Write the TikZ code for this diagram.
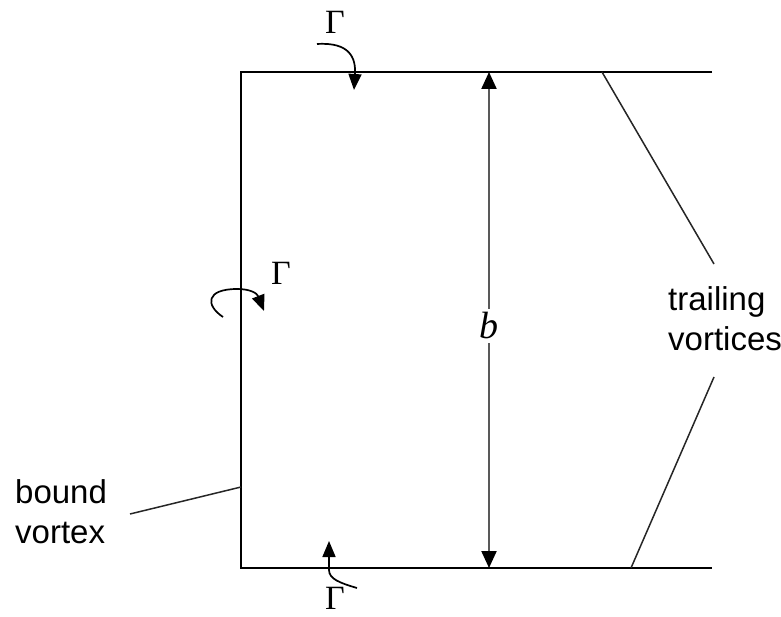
\documentclass[tikz,border=0pt]{standalone}
\usepackage{fontspec}
\setmainfont{Liberation Serif}
\setsansfont{Liberation Sans}
\usetikzlibrary{arrows.meta}
\tikzset{
  edge/.style={line width=1.8pt, black},
  leader/.style={line width=1.5pt, black!85},
  dimarrow/.style={line width=2.2pt, black!65, {Triangle[length=17pt,width=15pt,black]}-{Triangle[length=17pt,width=15pt,black]}},
  circarrow/.style={line width=1.7pt, black, -{Triangle[length=16pt,width=13pt]}},
  lbl/.style={font=\sffamily\fontsize{33}{40}\selectfont, align=left, inner sep=0pt},
  gam/.style={font=\fontsize{34}{34}\selectfont, inner sep=0pt},
}
\begin{document}
\begin{tikzpicture}[x=1pt,y=-1pt]
\useasboundingbox (0,0) rectangle (781,617);
% wing vortex system
\coordinate (tr) at (712,72);
\coordinate (tl) at (241,72);
\coordinate (bl) at (241,568);
\coordinate (br) at (712,568);
\draw[edge] (tr) -- (tl) -- (bl) -- (br);
% span arrow
\coordinate (btop) at (489,72);
\coordinate (bbot) at (489,568);
\draw[dimarrow] (btop) -- (bbot);
\node[fill=white, font=\itshape\fontsize{38}{38}\selectfont, inner sep=4pt] (b) at (489,326) {b};
% labels
\node[lbl, anchor=west] (bv) at (15,512) {bound\\vortex};
\coordinate (bvp) at (241,487);
\coordinate (bvs) at (130,514);
\draw[leader] (bvs) -- (bvp);
\node[lbl, anchor=west] (tv) at (668,319) {trailing\\vortices};
\coordinate (t1a) at (602,72);
\coordinate (t1b) at (714,264);
\coordinate (t2a) at (714,377);
\coordinate (t2b) at (631,568);
\draw[leader] (t1a) -- (t1b);
\draw[leader] (t2a) -- (t2b);
% circulation arrows
\node[gam] (g1) at (335,22) {Γ};
\coordinate (c1s) at (317,44);
\coordinate (c1e) at (354,90);
\draw[circarrow] (c1s) .. controls (350,42) and (356,58) .. (c1e);
\node[gam] (g2) at (281,273) {Γ};
\coordinate (c2s) at (223,317);
\coordinate (c2m) at (237,289);
\coordinate (c2e) at (264,311);
\draw[circarrow] (c2s) .. controls (205,305) and (206,289) .. (c2m) .. controls (250,289) and (257,293) .. (c2e);
\node[gam] (g3) at (335,598) {Γ};
\coordinate (c3s) at (357,588);
\coordinate (c3m) at (329,570);
\coordinate (c3e) at (329,541);
\draw[circarrow] (c3s) .. controls (340,583) and (329,579) .. (c3m) -- (c3e);
\end{tikzpicture}
\end{document}
